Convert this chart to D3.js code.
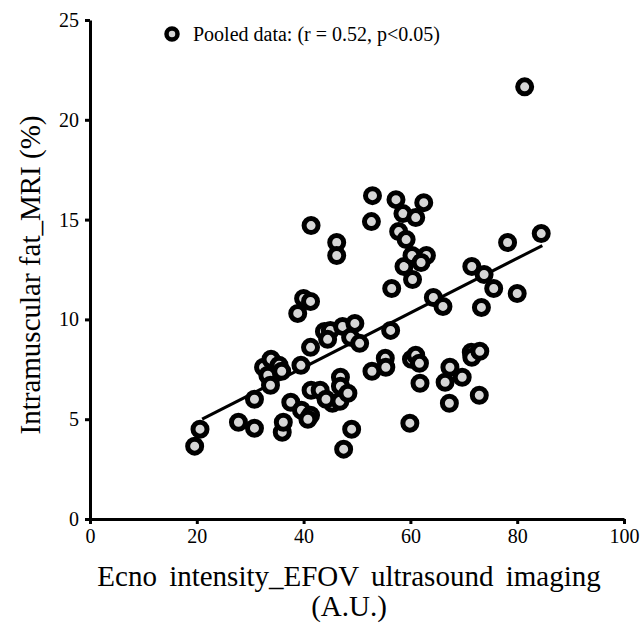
<!DOCTYPE html>
<html>
<head>
<meta charset="utf-8">
<script src="https://cdn.jsdelivr.net/npm/d3@7"></script>
<style>
  body { margin: 0; background: #fff; }
</style>
</head>
<body>
<div id="svg"></div>
<script>
// echo intensity (A.U.) vs intramuscular fat (%)
const echoX = [19.6, 20.6, 27.8, 30.8, 30.8, 32.5, 33.3, 33.9, 35.4, 35.9, 33.8, 36.0, 36.2, 37.6, 39.5, 39.6,
  38.9, 40.0, 41.3, 41.4, 41.3, 41.4, 41.3, 40.8, 43.1, 43.9, 45.0, 44.5, 45.4, 44.2, 46.2, 46.2,
  46.9, 46.9, 46.8, 47.5, 47.3, 48.3, 49.0, 49.6, 48.8, 50.5, 52.7, 52.9, 52.8, 55.3, 55.4, 56.3,
  56.5, 57.3, 57.8, 58.6, 59.2, 58.8, 60.3, 60.4, 59.9, 60.2, 61.0, 61.7, 61.8, 61.0, 62.5, 63.0,
  62.0, 64.3, 66.1, 66.5, 67.3, 67.4, 69.7, 71.5, 71.4, 71.5, 73.0, 72.9, 73.3, 73.8, 75.6, 78.2,
  80.0, 81.4, 84.5]
const fatY = [3.65, 4.5, 4.85, 4.55, 6.0, 7.6, 7.2, 8.0, 7.7, 7.4, 6.7, 4.35, 4.85, 5.85, 7.7, 5.45,
  10.3, 11.05, 10.9, 14.7, 8.6, 6.45, 5.2, 5.0, 6.45, 9.4, 9.45, 9.0, 5.8, 6.0, 13.85, 13.2,
  7.1, 6.65, 5.9, 3.5, 9.65, 6.3, 4.5, 9.8, 9.1, 8.8, 14.9, 16.2, 7.4, 8.05, 7.6, 9.45,
  11.55, 16.0, 14.4, 15.3, 14.0, 12.65, 13.2, 12.0, 4.8, 8.0, 8.2, 7.8, 6.8, 15.1, 15.85, 13.2,
  12.85, 11.1, 10.65, 6.85, 5.8, 7.6, 7.1, 12.65, 8.35, 8.1, 8.4, 6.2, 10.6, 12.25, 11.55, 13.85,
  11.3, 21.65, 14.3]
const trendX = [21.0, 84.7]
const trendY = [5.0, 13.7]
const xTicks = [0, 20, 40, 60, 80, 100]
const yTicks = [0, 5, 10, 15, 20, 25]
const legendText = 'Pooled data: (r = 0.52, p<0.05)'

const FONT = 'Liberation Serif'
const margin = {top: 20, left: 90}
const width = 534, height = 499

const data = echoX.map((x, i) => ({x: x, y: fatY[i]}))

const xscale = d3.scaleLinear().domain([0, 100]).range([0, width])
const yscale = d3.scaleLinear().domain([0, 25]).range([height, 0])

const root = d3.select('#svg')
  .append('svg')
    .attr('width', 641)
    .attr('height', 631)

const svg = root.append('g')
  .attr('transform', `translate(${margin.left},${margin.top})`)

// axes
const bottomAxis = d3.axisBottom(xscale).tickValues(xTicks).tickSize(5).tickSizeOuter(0).tickPadding(5)
const leftAxis = d3.axisLeft(yscale).tickValues(yTicks).tickSize(5).tickSizeOuter(0).tickPadding(6)

const gx = svg.append('g')
  .attr('transform', `translate(0, ${height})`)
  .call(bottomAxis)
const gy = svg.append('g').call(leftAxis)

;[gx, gy].forEach(g => {
  g.select('.domain').attr('stroke', '#000').attr('stroke-width', 3)
  g.selectAll('.tick line').attr('stroke', '#000').attr('stroke-width', 3)
  g.selectAll('.tick text')
    .attr('fill', '#000')
    .attr('font-family', FONT)
    .attr('font-size', 20)
})

// trend line
svg.append('line')
  .attr('x1', xscale(trendX[0])).attr('y1', yscale(trendY[0]))
  .attr('x2', xscale(trendX[1])).attr('y2', yscale(trendY[1]))
  .attr('stroke', '#000')
  .attr('stroke-width', 3)

// scatter
svg.append('g')
  .selectAll('circle')
  .data(data)
  .enter()
  .append('circle')
    .attr('cx', d => xscale(d.x))
    .attr('cy', d => yscale(d.y))
    .attr('r', 7)
    .style('fill', '#d6d6d6')
    .style('stroke', '#000')
    .style('stroke-width', 5)

// legend
root.append('circle')
  .attr('cx', 172).attr('cy', 34).attr('r', 5.5)
  .style('fill', '#d6d6d6').style('stroke', '#000').style('stroke-width', 4.5)
root.append('text')
  .attr('x', 193).attr('y', 41)
  .attr('font-family', FONT)
  .attr('font-size', 20)
  .text(legendText)

// axis titles
root.append('text')
  .attr('x', 349).attr('y', 586)
  .attr('text-anchor', 'middle')
  .attr('font-family', FONT)
  .attr('font-size', 29)
  .style('word-spacing', '5px')
  .text('Ecno intensity_EFOV ultrasound imaging')
root.append('text')
  .attr('x', 349).attr('y', 616)
  .attr('text-anchor', 'middle')
  .attr('font-family', FONT)
  .attr('font-size', 29)
  .text('(A.U.)')
root.append('text')
  .attr('transform', 'translate(40, 275) rotate(-90)')
  .attr('text-anchor', 'middle')
  .attr('font-family', FONT)
  .attr('font-size', 29)
  .text('Intramuscular fat_MRI (%)')
</script>
</body>
</html>
